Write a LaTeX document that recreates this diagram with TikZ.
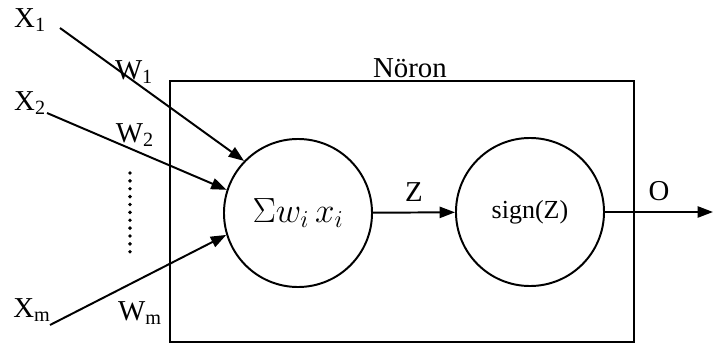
\documentclass[tikz,border=0pt]{standalone}
\usepackage{fontspec}
\setmainfont{Liberation Serif}
\usetikzlibrary{positioning, arrows.meta}
\tikzset{
  lbl/.style={font=\fontsize{20.5}{22}\selectfont, inner sep=0pt},
  unit/.style={draw, circle, line width=1.4pt, minimum size=3.7cm, inner sep=0pt},
  wire/.style={line width=1.4pt, -{Triangle[length=11pt, width=8pt]}}
}

\begin{document}
\begin{tikzpicture}[x=0.025cm, y=-0.025cm]
  \useasboundingbox (0,0) rectangle (713,349);
  % Neuron box
  \node[draw, line width=1.4pt, minimum width=11.6cm, minimum height=6.525cm, inner sep=0pt] (box) at (402,211.5) {};
  \node[lbl] (noron) at (410,68) {Nöron};
  % Units
  \node[unit] (sum) at (298,213) {\fontsize{23}{25}\selectfont$\Sigma w_i\,x_i$};
  \node[unit] (sign) at (530,212) {\fontsize{18.5}{20}\selectfont sign(Z)};
  % Inputs
  \node[lbl] (x1) at (30,20) {X\textsubscript{1}};
  \node[lbl] (x2) at (30,103) {X\textsubscript{2}};
  \node[lbl] (xm) at (32,310) {X\textsubscript{m}};
  \coordinate (x1s) at (60,28);
  \coordinate (x2s) at (47,113);
  \coordinate (xms) at (50,325);
  \draw[wire] (x1s) -- (sum.136);
  \draw[wire] (x2s) -- (sum.162);
  \draw[wire] (xms) -- (sum.197);
  % Weights
  \node[lbl] (w1) at (134,72) {W\textsubscript{1}};
  \node[lbl] (w2) at (135,135) {W\textsubscript{2}};
  \node[lbl] (wm) at (140,313) {W\textsubscript{m}};
  \draw[line width=2.8pt, line cap=round, dash pattern=on 0pt off 5.6pt] (130,173) -- (130,257);
  % Output side
  \draw[wire] (sum) -- (sign) node[lbl, midway, above=7pt] (z) {Z};
  \coordinate (out) at (713,212);
  \draw[wire] (sign) -- (out) node[lbl, pos=0.5, above=7pt] (o) {O};
\end{tikzpicture}
\end{document}
